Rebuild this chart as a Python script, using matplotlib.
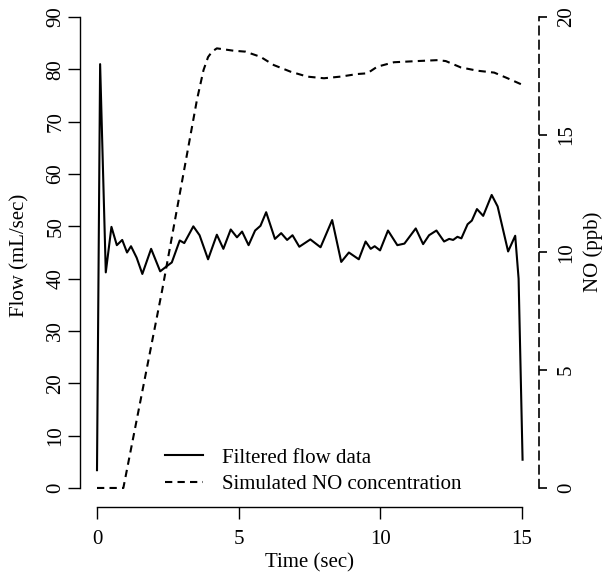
import matplotlib
matplotlib.use("Agg")
import matplotlib.pyplot as plt

# ---- data ----
flow_t = [0.00, 0.11, 0.31, 0.51, 0.70, 0.89, 1.06, 1.20, 1.40, 1.60, 1.91, 2.23,
          2.49, 2.64, 2.92, 3.08, 3.40, 3.62, 3.92, 4.23, 4.46, 4.72, 4.94, 5.12,
          5.35, 5.58, 5.77, 5.97, 6.28, 6.50, 6.71, 6.90, 7.14, 7.53, 7.89, 8.30,
          8.62, 8.89, 9.24, 9.48, 9.66, 9.80, 9.99, 10.27, 10.60, 10.85, 11.25,
          11.51, 11.72, 11.98, 12.25, 12.43, 12.57, 12.72, 12.86, 13.08, 13.23,
          13.41, 13.63, 13.93, 14.14, 14.51, 14.76, 14.88, 15.02]
flow_v = [3.4, 81.0, 41.2, 49.9, 46.4, 47.4, 45.0, 46.2, 44.0, 40.9, 45.7, 41.4,
          42.5, 43.1, 47.3, 46.8, 50.0, 48.3, 43.7, 48.4, 45.7, 49.4, 47.9, 49.0,
          46.4, 49.2, 50.1, 52.7, 47.6, 48.7, 47.4, 48.3, 46.1, 47.5, 46.0, 51.2,
          43.2, 45.0, 43.7, 47.1, 45.7, 46.2, 45.4, 49.2, 46.4, 46.7, 49.6,
          46.6, 48.3, 49.2, 47.1, 47.6, 47.4, 48.0, 47.7, 50.4, 51.1,
          53.3, 52.0, 56.0, 53.8, 45.2, 48.2, 40.0, 5.4]

no_t = [0.00, 0.93, 2.30, 3.53, 3.76, 3.92, 4.06, 4.23, 4.82, 5.24, 5.77, 6.24,
        6.83, 7.42, 8.01, 8.60, 9.19, 9.54, 9.89, 10.48, 11.31, 12.02, 12.31,
        12.84, 13.43, 14.02, 14.49, 14.96, 15.00]
no_v = [0.0, 0.0, 8.4, 16.5, 17.75, 18.3, 18.53, 18.67, 18.57, 18.53, 18.31, 17.96,
        17.68, 17.47, 17.40, 17.47, 17.58, 17.61, 17.89, 18.08, 18.13, 18.17, 18.13,
        17.86, 17.72, 17.64, 17.40, 17.15, 17.10]

x_ticks = [0, 5, 10, 15]
flow_ticks = [0, 10, 20, 30, 40, 50, 60, 70, 80, 90]
no_ticks = [0, 5, 10, 15, 20]
labels = ["Filtered flow data", "Simulated NO concentration"]

plt.rcParams['font.family'] = ['Liberation Serif', 'DejaVu Serif']
FS = 15

W, H = 605, 578
fig = plt.figure(figsize=(W / 100, H / 100), dpi=100)
left_px, right_px, top_px, bot_px = 80, 539, -1.8, 506.8
ax = fig.add_axes([left_px / W, 1 - bot_px / H, (right_px - left_px) / W,
                   (bot_px - top_px) / H])
ax.set_xlim(-0.6, 15.6)
ax.set_ylim(-3.6, 93.6)

l1, = ax.plot(flow_t, flow_v, color='black', lw=1.5, solid_joinstyle='round')

ax2 = ax.twinx()
ax2.set_position(ax.get_position())
ax2.set_ylim(-3.6 / 4.5, 93.6 / 4.5)
l2, = ax2.plot(no_t, no_v, color='black', lw=1.5, ls=(0, (3.5, 2.5)))

for a in (ax, ax2):
    a.spines['top'].set_visible(False)
ax.spines['right'].set_visible(False)
ax2.spines['left'].set_visible(False)
ax2.spines['bottom'].set_visible(False)
ax.spines['left'].set_bounds(0, 90)
ax.spines['bottom'].set_bounds(0, 15)
ax2.spines['right'].set_bounds(0, 20)
ax2.spines['right'].set_linestyle((0, (5, 3.5)))
for s in ('left', 'bottom'):
    ax.spines[s].set_linewidth(1.0)
ax2.spines['right'].set_linewidth(1.2)

ax.set_xticks(x_ticks)
ax.set_xticklabels([str(v) for v in x_ticks])
ax.set_yticks(flow_ticks)
ax.set_yticklabels([str(v) for v in flow_ticks], rotation=90, va='center')
ax2.set_yticks(no_ticks)
ax2.set_yticklabels([str(v) for v in no_ticks], rotation=90, va='center')

ax.tick_params(axis='x', direction='out', length=8.6, width=1.0, pad=8, labelsize=FS)
ax.tick_params(axis='y', direction='out', length=8.6, width=1.0, pad=2, labelsize=FS)
ax2.tick_params(axis='y', direction='out', length=5.8, width=1.2, pad=7, labelsize=FS)

fig.text(20 / W, 1 - 255 / H, "Flow (mL/sec)", rotation=90, ha='center', va='center', fontsize=FS)
fig.text(593 / W, 1 - 252 / H, "NO (ppb)", rotation=90, ha='center', va='center', fontsize=FS)
fig.text(309.5 / W, 1 - 563 / H, "Time (sec)", ha='center', va='center', fontsize=FS)

leg = ax.legend([l1, l2], labels, loc='center left', frameon=False,
                bbox_to_anchor=(165 / W, 1 - 471 / H), bbox_transform=fig.transFigure,
                borderpad=0, borderaxespad=0, handlelength=1.8, handletextpad=0.95,
                labelspacing=0.32, fontsize=FS)

fig.savefig("out.png", dpi=100)
